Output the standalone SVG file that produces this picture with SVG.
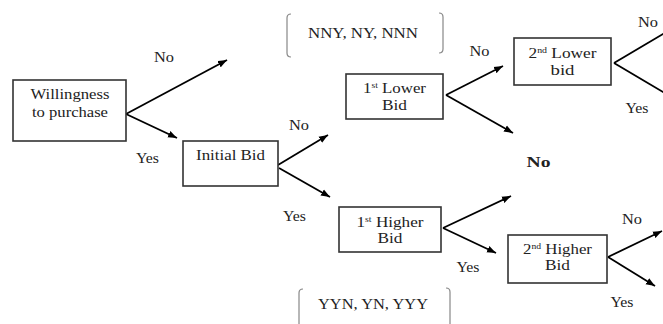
<svg xmlns="http://www.w3.org/2000/svg" width="663" height="324" viewBox="0 0 663 324">
<defs>
<marker id="ah" markerUnits="userSpaceOnUse" markerWidth="10" markerHeight="8" refX="9" refY="4" orient="auto">
<path d="M0,0.5 L9,4 L0,7.5 Z" fill="#000"/>
</marker>
<style>
.box{fill:#fff;stroke:#333;stroke-width:1.6}
.t{font-family:"Liberation Serif","Times New Roman",serif;font-size:14px;fill:#222;text-anchor:middle}
.b{font-weight:bold;font-size:15px}
.c{stroke:#000;stroke-width:1.8;fill:none}
.br{stroke:#888;stroke-width:1.2;fill:none}
</style>
</defs>
<rect width="663" height="324" fill="#fff"/>
<g id="connectors">
<line class="c" x1="126" y1="114" x2="227" y2="60" marker-end="url(#ah)"/>
<line class="c" x1="126" y1="114" x2="177" y2="138" marker-end="url(#ah)"/>
<line class="c" x1="278" y1="165" x2="328" y2="135" marker-end="url(#ah)"/>
<line class="c" x1="279" y1="168" x2="330" y2="197" marker-end="url(#ah)"/>
<line class="c" x1="446" y1="95" x2="503" y2="66" marker-end="url(#ah)"/>
<line class="c" x1="446" y1="95" x2="513" y2="133" marker-end="url(#ah)"/>
<line class="c" x1="614" y1="63" x2="668" y2="31"/>
<line class="c" x1="614" y1="63" x2="668" y2="95"/>
<line class="c" x1="443" y1="228" x2="511" y2="196" marker-end="url(#ah)"/>
<line class="c" x1="443" y1="228" x2="496" y2="253" marker-end="url(#ah)"/>
<line class="c" x1="608" y1="257" x2="662" y2="231" marker-end="url(#ah)"/>
<line class="c" x1="608" y1="257" x2="655" y2="286" marker-end="url(#ah)"/>
</g>
<g id="willingness">
<rect class="box" x="13" y="80" width="113" height="61"/>
<text class="t" x="70" y="99" textLength="79" lengthAdjust="spacingAndGlyphs">Willingness</text>
<text class="t" x="70" y="117" textLength="76" lengthAdjust="spacingAndGlyphs">to purchase</text>
</g>
<g id="initial-bid">
<rect class="box" x="183" y="141" width="95" height="45"/>
<text class="t" x="230.5" y="160" textLength="69" lengthAdjust="spacingAndGlyphs">Initial Bid</text>
</g>
<g id="first-lower">
<rect class="box" x="346" y="74" width="97" height="45"/>
<text class="t" x="394.5" y="93" textLength="63" lengthAdjust="spacingAndGlyphs">1<tspan font-size="8" dy="-5">st</tspan><tspan dy="5"> Lower</tspan></text>
<text class="t" x="394.5" y="110" textLength="25" lengthAdjust="spacingAndGlyphs">Bid</text>
</g>
<g id="second-lower">
<rect class="box" x="514" y="38" width="97" height="47"/>
<text class="t" x="562.5" y="58" textLength="68" lengthAdjust="spacingAndGlyphs">2<tspan font-size="8" dy="-5">nd</tspan><tspan dy="5"> Lower</tspan></text>
<text class="t" x="562.5" y="75" textLength="24" lengthAdjust="spacingAndGlyphs">bid</text>
</g>
<g id="first-higher">
<rect class="box" x="339" y="207" width="102" height="45"/>
<text class="t" x="390" y="227" textLength="67" lengthAdjust="spacingAndGlyphs">1<tspan font-size="8" dy="-5">st</tspan><tspan dy="5"> Higher</tspan></text>
<text class="t" x="390" y="243" textLength="25" lengthAdjust="spacingAndGlyphs">Bid</text>
</g>
<g id="second-higher">
<rect class="box" x="508" y="235" width="99" height="48"/>
<text class="t" x="557.5" y="254" textLength="69" lengthAdjust="spacingAndGlyphs">2<tspan font-size="8" dy="-5">nd</tspan><tspan dy="5"> Higher</tspan></text>
<text class="t" x="557.5" y="270" textLength="25" lengthAdjust="spacingAndGlyphs">Bid</text>
</g>
<g id="no-outcome">
<text class="t b" x="538.5" y="167" textLength="24" lengthAdjust="spacingAndGlyphs">No</text>
</g>
<g id="nny-set">
<path class="br" d="M291,14 Q287,14 287,18 L287,53 Q287,57 291,57"/>
<path class="br" d="M439,13 Q443,13 443,17 L443,49 Q443,53 439,53"/>
<text class="t" x="363" y="38" textLength="110" lengthAdjust="spacingAndGlyphs">NNY, NY, NNN</text>
</g>
<g id="yyn-set">
<path class="br" d="M303,289 Q299,289 299,293 L299,324"/>
<path class="br" d="M446,288 Q450,288 450,292 L450,324"/>
<text class="t" x="373" y="309" textLength="110" lengthAdjust="spacingAndGlyphs">YYN, YN, YYY</text>
</g>
<g id="labels">
<text class="t" x="164" y="62" textLength="20" lengthAdjust="spacingAndGlyphs">No</text>
<text class="t" x="147.5" y="163" textLength="23" lengthAdjust="spacingAndGlyphs">Yes</text>
<text class="t" x="299" y="130" textLength="20" lengthAdjust="spacingAndGlyphs">No</text>
<text class="t" x="294.5" y="221" textLength="23" lengthAdjust="spacingAndGlyphs">Yes</text>
<text class="t" x="479.5" y="56" textLength="20" lengthAdjust="spacingAndGlyphs">No</text>
<text class="t" x="648" y="27" textLength="20" lengthAdjust="spacingAndGlyphs">No</text>
<text class="t" x="637" y="113" textLength="23" lengthAdjust="spacingAndGlyphs">Yes</text>
<text class="t" x="468" y="272" textLength="23" lengthAdjust="spacingAndGlyphs">Yes</text>
<text class="t" x="632" y="224" textLength="20" lengthAdjust="spacingAndGlyphs">No</text>
<text class="t" x="622" y="307" textLength="23" lengthAdjust="spacingAndGlyphs">Yes</text>
</g>
</svg>
